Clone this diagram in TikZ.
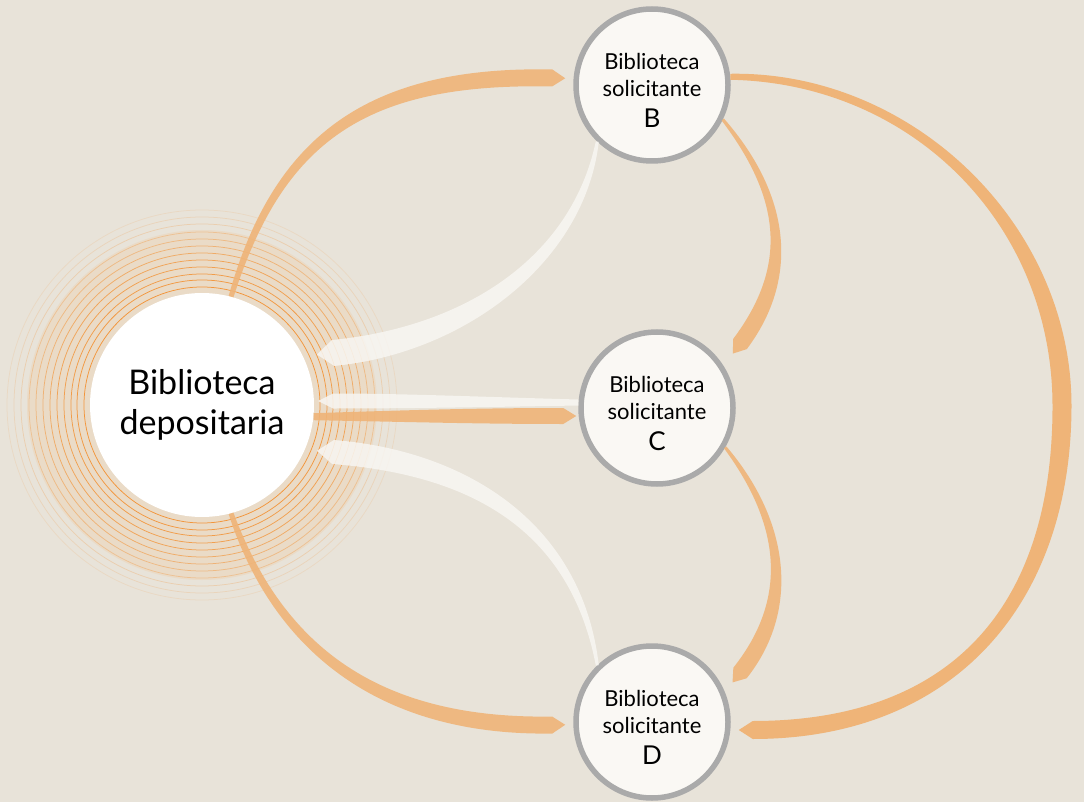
\documentclass[tikz,border=0pt]{standalone}
\usepackage{fontspec}
\setmainfont{Lato}
\usetikzlibrary{calc}

\definecolor{paper}{RGB}{232,227,217}
\definecolor{halo}{RGB}{234,219,199}
\definecolor{ringor}{RGB}{243,146,52}
\definecolor{flowor}{RGB}{239,180,120}
\definecolor{backwhite}{RGB}{248,246,242}
\definecolor{reqfill}{RGB}{250,248,244}
\definecolor{reqline}{RGB}{170,170,170}

% tapered arrow: #1 style, #2 start, #3 #4 controls, #5 end of body,
% #6 half width at start, #7 half width at end, #8 head length (0pt = flat end)
\newcommand{\flowarrow}[8]{%
  \coordinate (fs) at #2;
  \coordinate (fa) at #3;
  \coordinate (fb) at #4;
  \coordinate (fe) at #5;
  \coordinate (fsl) at ($(fs)!#6!90:(fa)$);
  \coordinate (fsr) at ($(fs)!#6!-90:(fa)$);
  \coordinate (fwl) at ($(fs)!#7!90:(fa)$);
  \coordinate (fwr) at ($(fs)!#7!-90:(fa)$);
  \coordinate (fel) at ($(fe)!#7!-90:(fb)$);
  \coordinate (fer) at ($(fe)!#7!90:(fb)$);
  \coordinate (ftip) at ($(fe)!-#8!(fb)$);
  \fill[#1] (fsl) .. controls ($(fa)+0.5*(fsl)+0.5*(fwl)-(fs)$) and ($(fb)+(fel)-(fe)$) .. (fel)
    -- (ftip) -- (fer) .. controls ($(fb)+(fer)-(fe)$) and ($(fa)+0.5*(fsr)+0.5*(fwr)-(fs)$) .. (fsr) -- cycle;
}

\begin{document}
\begin{tikzpicture}[x=1pt, y=-1pt,
  depo/.style={circle, fill=white, inner sep=0pt, minimum size=224pt,
    align=center, font=\fontsize{34}{40}\selectfont},
  req/.style={circle, draw=reqline, line width=5.5pt, fill=reqfill,
    inner sep=0pt, minimum size=152pt, align=center,
    font=\fontsize{22}{27}\selectfont},
  outflow/.style={fill=flowor, fill opacity=0.9},
  outflowsolid/.style={fill=flowor},
  backflow/.style={fill=backwhite, fill opacity=0.85}]

  % Background
  \useasboundingbox (0,0) rectangle (1084,802);
  \fill[paper] (0,0) rectangle (1084,802);

  % Halo round the depositary library
  \coordinate (hub) at (202,405);
  \fill[halo] (hub) circle (175pt);
  \foreach \r/\o in {118/0.95, 125/0.9, 131/0.85, 138/0.8, 145/0.75, 152/0.65,
                     159/0.55, 166/0.45, 173/0.35, 181/0.25, 188/0.18, 195/0.13} {
    \draw[ringor, line width=0.75pt, draw opacity=\o] (hub) circle (\r pt);
  }

  % Libraries
  \node[depo] (dep) at (hub) {Biblioteca\\depositaria};
  \node[req] (reqB) at (652,85)  {\rule{0pt}{27pt}Biblioteca\\solicitante\\[4pt]{\fontsize{26}{27}\selectfont B}};
  \node[req] (reqC) at (657,408) {\rule{0pt}{27pt}Biblioteca\\solicitante\\[4pt]{\fontsize{26}{27}\selectfont C}};
  \node[req] (reqD) at (652,722) {\rule{0pt}{27pt}Biblioteca\\solicitante\\[4pt]{\fontsize{26}{27}\selectfont D}};

  % Returns to the depositary
  \flowarrow{backflow}{(reqB.226)}{($(reqB)+(-74,175)$)}{($(dep)+(263,-65)$)}{($(dep)+(131,-52)$)}{1.5pt}{13pt}{16pt}
  \flowarrow{backflow}{(reqC.176)}{($(reqC)+(-180,-6)$)}{($(dep)+(200,-4)$)}{($(dep)+(131,-4)$)}{3pt}{7.5pt}{15pt}
  \flowarrow{backflow}{(reqD.134)}{($(reqD)+(-77,-202)$)}{($(dep)+(258,57)$)}{($(dep)+(131,47)$)}{1.5pt}{12pt}{16pt}

  % Loans from the depositary
  \flowarrow{outflow}{(dep.75)}{($(dep)+(76,-265)$)}{($(reqB)+(-287,-11)$)}{($(reqB.west)+(-21,-7)$)}{2.5pt}{8.5pt}{13pt}
  \flowarrow{outflow}{(dep.-6)}{($(dep)+(200,11)$)}{($(reqC)+(-180,8)$)}{($(reqC.west)+(-15,8)$)}{3.5pt}{8pt}{13pt}
  \flowarrow{outflow}{(dep.-75)}{($(dep)+(73,235)$)}{($(reqD)+(-282,6)$)}{($(reqD.west)+(-21,3)$)}{2.5pt}{8.5pt}{13pt}

  % Loans between requesting libraries
  \flowarrow{outflow}{(reqB.-26)}{($(reqB)+(134,112)$)}{($(reqC)+(137,-136)$)}{($(reqC)+(83,-64)$)}{1.5pt}{8.5pt}{12pt}
  \flowarrow{outflow}{(reqC.-30)}{($(reqC)+(129,116)$)}{($(reqD)+(142,-117)$)}{($(reqD)+(88,-49)$)}{1.5pt}{8.5pt}{12pt}
  \coordinate (farside) at ($(reqC)+(405,-2)$);
  \flowarrow{outflowsolid}{(reqB.6)}{($(reqB)+(260,-8)$)}{($(farside)+(0,-182)$)}{(farside)}{3pt}{9.5pt}{0pt}
  \flowarrow{outflowsolid}{(farside)}{($(farside)+(0,200)$)}{($(reqD)+(300,8)$)}{($(reqD.east)+(22,8)$)}{9.5pt}{9pt}{14pt}
\end{tikzpicture}
\end{document}
